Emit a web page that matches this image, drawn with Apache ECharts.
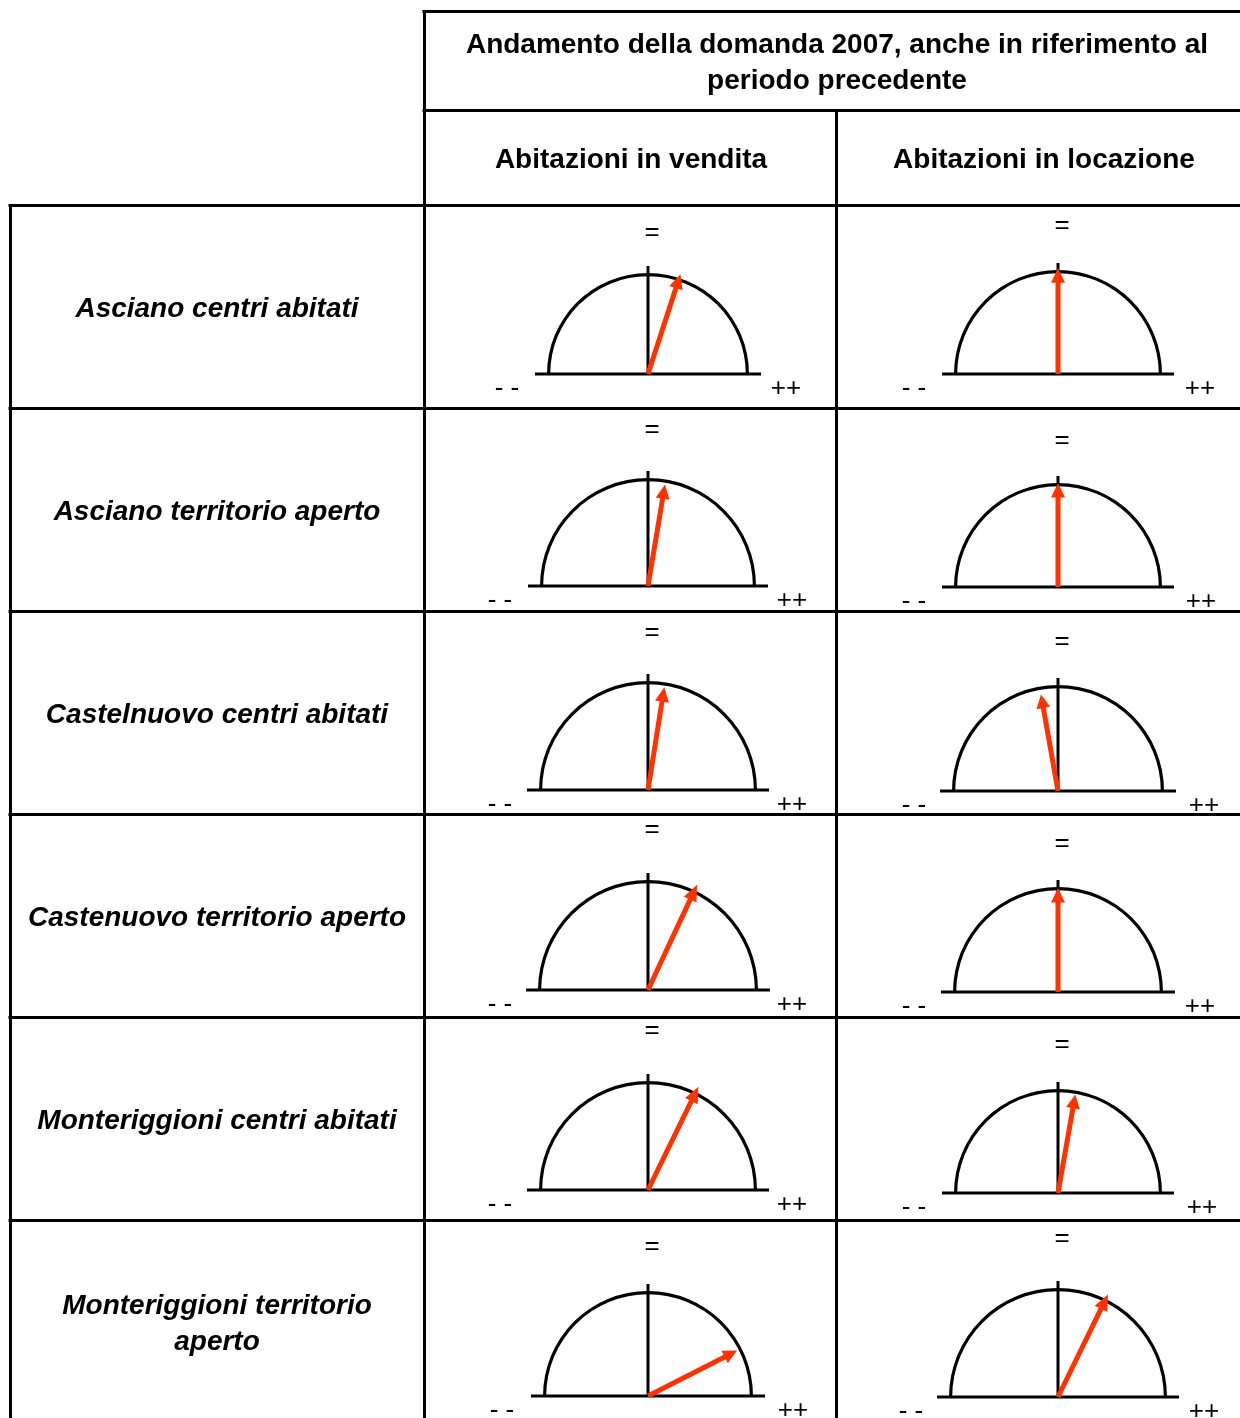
<!DOCTYPE html>
<html><head><meta charset="utf-8">
<script src="https://cdn.jsdelivr.net/npm/echarts@6/dist/echarts.min.js"></script>
<style>html,body{margin:0;padding:0;background:#fff}#c{width:1240px;height:1418px}</style>
</head><body><div id="c"></div>
<script>
// ---------- DATA ----------
const titleLines = ['Andamento della domanda 2007, anche in riferimento al', 'periodo precedente'];
const columns = ['Abitazioni in vendita', 'Abitazioni in locazione'];
const rows = ['Asciano centri abitati', 'Asciano territorio aperto', 'Castelnuovo centri abitati',
              'Castenuovo territorio aperto', 'Monteriggioni centri abitati', 'Monteriggioni territorio\naperto'];
const scaleLabels = ['- -', '=', '++'];          // min, middle, max of each dial
const scaleMin = -90, scaleMax = 90;            // dial scale (needle angle from "=")
const vendita   = [18, 9.5, 9, 25, 26, 63];
const locazione = [0, 0, -10, 0, 10, 26];

// ---------- LAYOUT ----------
const FONT = '"Liberation Sans", Arial, Helvetica, sans-serif';
const TY = 2; // text vertical nudge
const colX = [648, 1058];
const rowTop = [205, 408, 611, 814, 1017, 1220];
const baseY = [[374,374],[586,587],[790,791],[990,992],[1190,1193],[1396,1397]];
const arcR  = [[101,104],[108,104],[109,106],[110,105],[109,104],[105,109]];
const arrowLen = [[105,106],[103,104],[104,98],[116,104],[115,100],[100,114]];
const eqOff = [[143,150],[158,148],[159,151],[162,150],[161,150],[151,160]];
const lowOff  = [[-141,-144],[-148,-144],[-148,-144],[-148,-144],[-148,-144],[-146,-147]];
const highOff = [[138,142],[144,143],[144,146],[144,142],[144,144],[145,146]];

const ARROW = 'path://M7,0 L14,14 L9.5,14 L9.5,100 L4.5,100 L4.5,14 L0,14 Z';

function cellSeries(cx, cy, r, val, len) {
  const common = {
    type: 'gauge', center: [cx, cy], radius: r, startAngle: 180, endAngle: 0,
    min: scaleMin, max: scaleMax, splitNumber: 2,
    axisTick: {show: false}, splitLine: {show: false}, axisLabel: {show: false},
    anchor: {show: false}, title: {show: false}, detail: {show: false},
    progress: {show: false}, silent: true, animation: false
  };
  return [
    Object.assign({}, common, {z: 2, axisLine: {show: false},
      pointer: {icon: 'rect', width: 3, length: r + 12}, itemStyle: {color: '#000'},
      data: [{value: scaleMin}, {value: scaleMax}]}),
    Object.assign({}, common, {z: 3, axisLine: {show: false},
      pointer: {icon: 'rect', width: 3, length: r + 7}, itemStyle: {color: '#000'},
      data: [{value: (scaleMin + scaleMax) / 2}]}),
    Object.assign({}, common, {z: 4,
      axisLine: {show: true, roundCap: false, lineStyle: {width: 3.2, color: [[1, '#000']]}},
      pointer: {show: false}, data: [{value: val}]}),
    Object.assign({}, common, {z: 5, axisLine: {show: false},
      pointer: {icon: ARROW, width: 14, length: len}, itemStyle: {color: '#ff3300'},
      data: [{value: val}]})
  ];
}

const series = [];
const graphic = [];
function txt(x, y, text, font, extra) {
  graphic.push({type: 'text', x: x, y: y + TY, silent: true, z: 10,
    style: Object.assign({text: text, font: font, fill: '#000',
      align: 'center', verticalAlign: 'middle', textAlign: 'center', textVerticalAlign: 'middle'}, extra || {})});
}
function line(x1, y1, x2, y2) {
  graphic.push({type: 'line', silent: true, z: 9, shape: {x1: x1, y1: y1, x2: x2, y2: y2},
    style: {stroke: '#000', lineWidth: 3}});
}

// table grid (half-pixel offsets for crisp 3px lines)
line(422.5, 11.5, 1240, 11.5);
line(422.5, 110.5, 1240, 110.5);
line(8.5, 205.5, 1240, 205.5);
rowTop.slice(1).forEach(y => line(8.5, y + 0.5, 1240, y + 0.5));
line(10.5, 204, 10.5, 1418);
line(424.5, 10, 424.5, 1418);
line(836.5, 109, 836.5, 1418);

// headers
const HF = 'bold 28px ' + FONT;
txt(837, 43, titleLines[0], HF);
txt(837, 79, titleLines[1], HF);
txt(631, 158, columns[0], HF);
txt(1044, 158, columns[1], HF);

const values = [vendita, locazione];
rows.forEach((name, i) => {
  txt(217, rowTop[i] + 102, name, 'italic bold 28px ' + FONT, {lineHeight: 36});
  for (let c = 0; c < 2; c++) {
    const cx = colX[c], cy = baseY[i][c];
    series.push(...cellSeries(cx, cy, arcR[i][c], values[c][i], arrowLen[i][c]));
    txt(cx + lowOff[i][c], cy + 13, scaleLabels[0], '26px ' + FONT);
    txt(cx + 4, cy - eqOff[i][c], scaleLabels[1], '26px ' + FONT);
    txt(cx + highOff[i][c], cy + 13, scaleLabels[2], '26px ' + FONT);
  }
});

const chart = echarts.init(document.getElementById('c'), null, {renderer: 'canvas'});
chart.setOption({animation: false, backgroundColor: '#fff', series: series, graphic: graphic});
</script>
</body></html>
